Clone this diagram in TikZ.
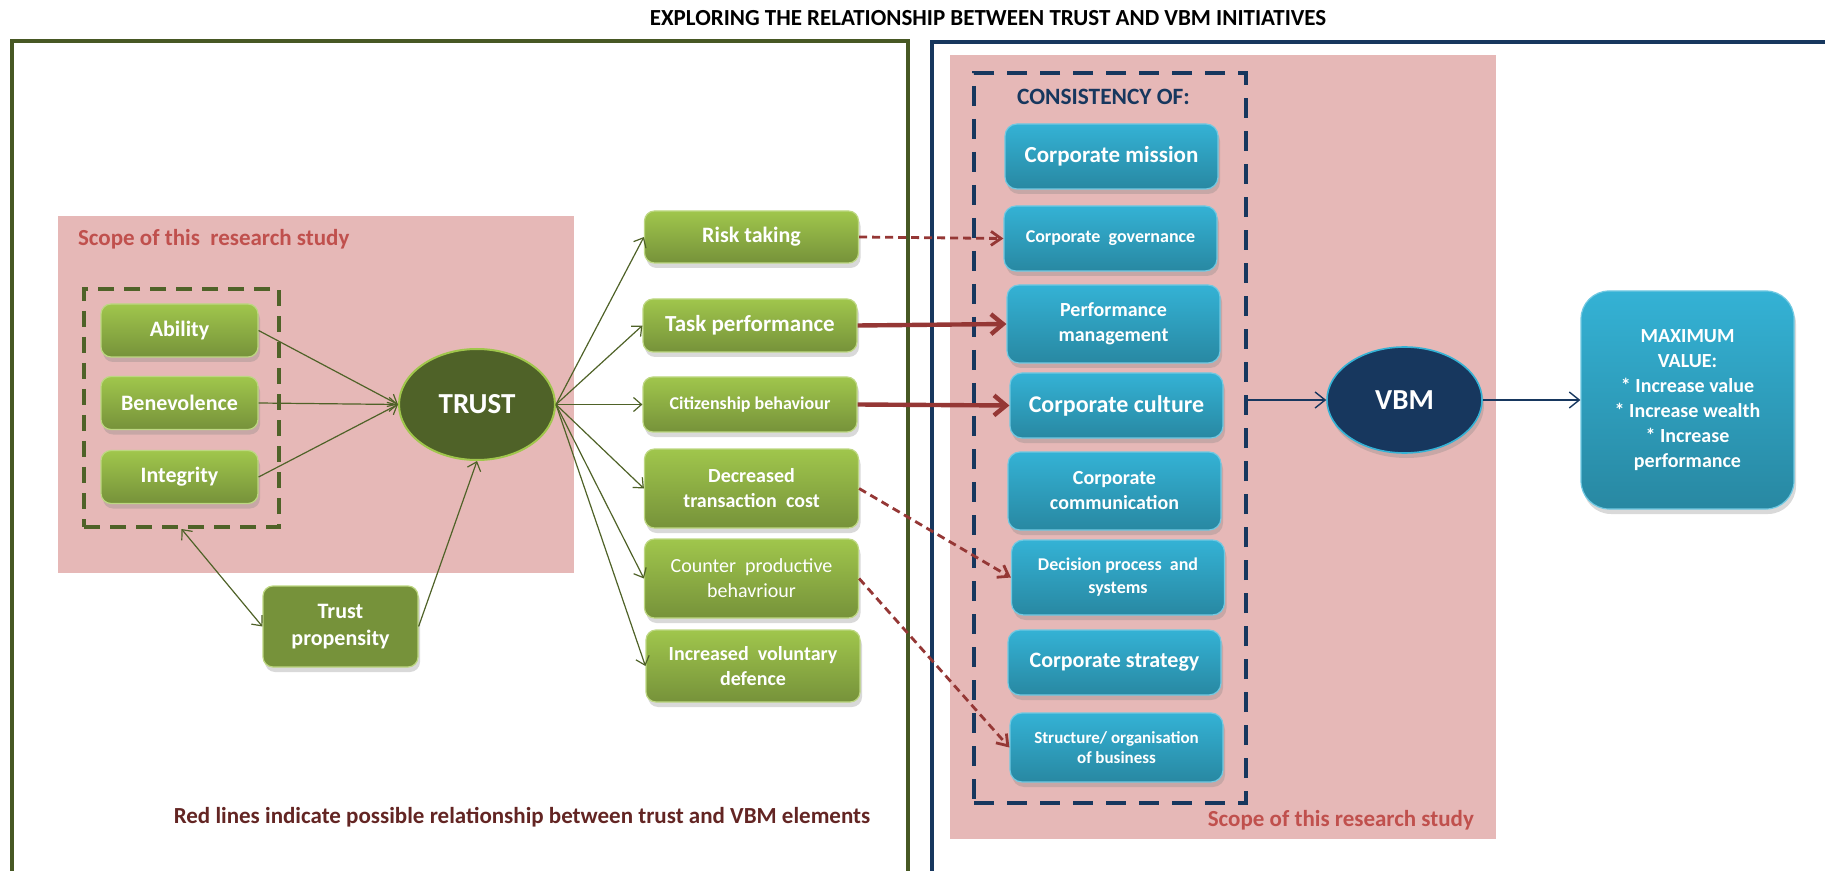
\documentclass[tikz,border=0pt]{standalone}
\usepackage{fontspec}
\setmainfont{Carlito}
\usetikzlibrary{arrows.meta,shapes.geometric,shadows}
\definecolor{greentop}{RGB}{160,198,76}
\definecolor{greenbot}{RGB}{118,146,58}
\definecolor{bluetop}{RGB}{52,178,213}
\definecolor{bluebot}{RGB}{40,136,162}
\definecolor{pinkbg}{RGB}{230,184,183}
\definecolor{olive}{RGB}{79,98,40}
\definecolor{navy}{RGB}{23,55,94}
\definecolor{redline}{RGB}{149,55,53}
\definecolor{scopered}{RGB}{192,80,77}
\definecolor{notered}{RGB}{99,37,35}
\newcommand{\fs}[2]{\fontsize{#1}{#2}\selectfont}

\begin{document}
\begin{tikzpicture}[x=0.5pt,y=-0.5pt,
    shade/.style={drop shadow={shadow xshift=1pt,shadow yshift=-2.5pt,opacity=0.3}},
    greenbox/.style={shade,rounded corners=5pt,top color=greentop,bottom color=greenbot,
      draw=greentop!70!white,line width=0.6pt,text=white,align=center,inner sep=0pt,
      minimum width=107pt,font=\bfseries\fs{10}{12.5}},
    leftbox/.style={greenbox,minimum width=78.5pt,minimum height=26.5pt,font=\bfseries\fs{11}{13}},
    bluebox/.style={shade,rounded corners=6pt,top color=bluetop,bottom color=bluebot,
      draw=bluetop!70!white,line width=0.6pt,text=white,align=center,inner sep=0pt,
      minimum width=106.5pt,font=\bfseries\fs{10}{12.5}},
    garrow/.style={olive,line width=0.6pt,-{Straight Barb[length=4pt,width=7pt]}},
    rsolid/.style={redline,line width=2.2pt,-{Straight Barb[length=6pt,width=10pt]}},
    rdash/.style={redline,line width=1.4pt,dash pattern=on 4pt off 2.5pt,-{Straight Barb[length=5pt,width=7pt]}},
    narrow/.style={navy,line width=0.7pt,-{Straight Barb[length=5pt,width=8pt]}}]
  \useasboundingbox (0,0) rectangle (1825,871);
  % frames and shaded scopes
  \draw[olive!90!black,line width=2pt] (12,871) -- (12,41) -- (908,41) -- (908,871);
  \draw[navy,line width=2pt] (932,871) -- (932,42) -- (1825,42);
  \fill[pinkbg] (58,216) rectangle (574,573);
  \fill[pinkbg] (950,55) rectangle (1496,839);
  \node[font=\bfseries\fs{11.5}{13}] (title) at (988,18) {EXPLORING THE RELATIONSHIP BETWEEN TRUST AND VBM INITIATIVES};
  \node[anchor=west,text=scopered,font=\bfseries\fs{11.5}{13}] (scopeL) at (71,239) {Scope of this\ \ research study};
  \node[anchor=east,text=scopered,font=\bfseries\fs{11.5}{13}] (scopeR) at (1481,820) {Scope of this research study};
  \node[text=notered,font=\bfseries\fs{11.5}{13}] (note) at (522,817) {Red lines indicate possible relationship between trust and VBM elements};
  % trust side
  \node[draw=olive,line width=2pt,dash pattern=on 8pt off 5pt,minimum width=97.5pt,minimum height=119pt] (trio) at (181.5,408) {};
  \node[leftbox] (ability) at (179.5,330.5) {Ability};
  \node[leftbox] (benevol) at (179.5,403) {Benevolence};
  \node[leftbox] (integrity) at (179.5,477) {Integrity};
  \node[ellipse,draw=greentop,line width=1pt,fill=olive,minimum width=78pt,minimum height=55.5pt,
    text=white,font=\bfseries\fs{14.5}{16}] (trust) at (477,404.5) {TRUST};
  \node[greenbox,top color=greenbot,bottom color=greenbot,minimum width=77.5pt,minimum height=40.5pt,
    font=\bfseries\fs{11}{13.5}] (propensity) at (340.5,626.5) {Trust\\propensity};
  \node[greenbox,minimum height=26pt,font=\bfseries\fs{11}{13}] (risk) at (751.5,237) {Risk taking};
  \node[greenbox,minimum height=26.5pt,font=\bfseries\fs{11.5}{13}] (task) at (750,325.5) {Task performance};
  \node[greenbox,minimum height=27.5pt,font=\bfseries\fs{9}{11}] (citizen) at (750,404.5) {Citizenship behaviour};
  \node[greenbox,minimum height=39.5pt] (decreased) at (751.5,488.5) {Decreased\\transaction\ \ cost};
  \node[greenbox,minimum height=39.5pt,font=\fs{10}{12.5}] (counter) at (751.5,578.5) {Counter\ \ productive\\behavriour};
  \node[greenbox,minimum height=36pt] (voluntary) at (753,666) {Increased\ \ voluntary\\defence};
  \draw[garrow] (ability.east) -- (trust.west);
  \draw[garrow] (benevol.east) -- (trust.west);
  \draw[garrow] (integrity.east) -- (trust.west);
  \draw[garrow] (propensity.east) -- (trust.south);
  \draw[olive,line width=0.6pt,{Straight Barb[length=4pt,width=7pt]}-{Straight Barb[length=4pt,width=7pt]}] (trio.south) -- (propensity.west);
  \foreach \t in {risk,task,citizen,decreased,counter,voluntary}
    \draw[garrow] (trust.east) -- (\t.west);
  % vbm side
  \node[draw=navy,line width=2pt,dash pattern=on 10pt off 6.5pt,minimum width=136pt,minimum height=365pt] (consist) at (1110,438) {};
  \node[anchor=west,text=navy,font=\bfseries\fs{11.7}{13}] (consof) at (1010,97) {CONSISTENCY OF:};
  \node[bluebox,minimum height=32.5pt,font=\bfseries\fs{11.5}{13}] (mission) at (1111.5,156.5) {Corporate mission};
  \node[bluebox,minimum height=32.5pt,font=\bfseries\fs{9}{11}] (governance) at (1110.5,238.5) {Corporate\ \ governance};
  \node[bluebox,minimum height=39pt] (perfmgmt) at (1113.5,324) {Performance\\management};
  \node[bluebox,minimum height=32.5pt,font=\bfseries\fs{12}{14}] (culture) at (1116.5,405.5) {Corporate culture};
  \node[bluebox,minimum height=39pt] (communic) at (1114.5,491) {Corporate\\communication};
  \node[bluebox,minimum height=37.5pt,font=\bfseries\fs{9}{11.5}] (decision) at (1118,577.5) {Decision process\ \ and\\systems};
  \node[bluebox,minimum height=32.5pt,font=\bfseries\fs{11}{13}] (strategy) at (1114.5,662.5) {Corporate strategy};
  \node[bluebox,minimum height=34.5pt,font=\bfseries\fs{8.5}{10}] (structure) at (1116.5,747.5) {Structure/ organisation\\of business};
  \node[ellipse,draw=bluetop,line width=0.8pt,fill=navy,minimum width=77.5pt,minimum height=53pt,shade,
    text=white,font=\bfseries\fs{14.5}{16}] (vbm) at (1404.5,400) {VBM};
  \node[bluebox,rounded corners=14pt,minimum width=106.5pt,minimum height=109pt] (maxval) at (1687.5,400)
    {MAXIMUM\\VALUE:\\* Increase value\\* Increase wealth\\* Increase\\performance};
  \draw[narrow] (consist.east |- vbm.west) -- (vbm.west);
  \draw[narrow] (vbm.east) -- (maxval.west);
  % possible links
  \draw[rdash] (risk.east) -- (governance.west);
  \draw[rsolid] (task.east) -- (perfmgmt.west);
  \draw[rsolid] (citizen.east) -- (culture.west);
  \draw[rdash] (decreased.east) -- (decision.west);
  \draw[rdash] (counter.east) -- (structure.west);
\end{tikzpicture}
\end{document}
